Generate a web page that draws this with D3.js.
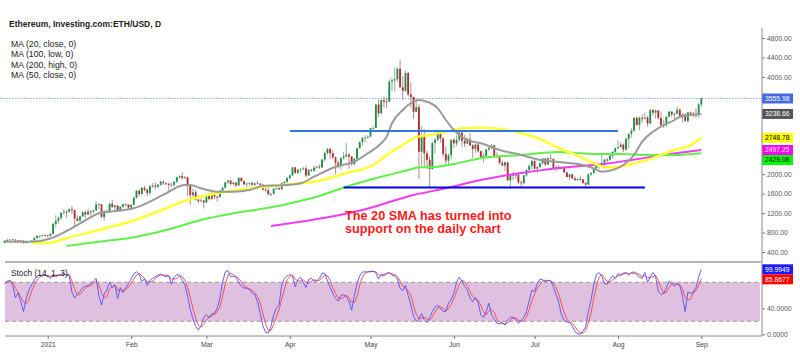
<!DOCTYPE html>
<html>
<head>
<meta charset="utf-8">
<script src="https://cdn.jsdelivr.net/npm/d3@7"></script>
<style>
  body { margin: 0; background: #fff; }
  svg { display: block; font-family: "Liberation Sans", Arial, sans-serif; }
</style>
</head>
<body>
<div id="chart"></div>
<script>
// ETH/USD daily, 16 Dec 2020 -> 1 Sep 2021, [open, high, low, close]
const firstDay = "2020-12-16";
const ethDaily = [
  [589,637,584,636],[636,675,620,643],[643,660,628,657],[657,668,645,655],[655,660,625,638],
  [638,647,595,609],[609,640,600,634],[634,637,575,584],[584,614,568,612],[612,628,602,626],
  [626,642,614,635],[635,722,630,683],[683,740,680,731],[731,737,693,732],[732,755,715,751],
  [751,752,720,737],
  // Jan
  [737,749,716,730],[730,787,715,775],[775,1011,768,978],[978,1157,896,1041],[1041,1134,976,1100],
  [1100,1209,1064,1208],[1208,1282,1168,1225],[1225,1260,1100,1224],[1224,1300,1210,1281],[1281,1348,1180,1262],
  [1262,1265,915,1090],[1090,1150,1030,1043],[1043,1140,1015,1130],[1130,1245,1124,1218],[1218,1250,1090,1171],
  [1171,1290,1160,1233],[1233,1260,1150,1230],[1230,1265,1200,1257],[1257,1440,1250,1377],[1377,1400,1280,1382],
  [1382,1384,1100,1121],[1121,1260,1042,1236],[1236,1280,1210,1233],[1233,1410,1225,1392],[1392,1470,1310,1324],
  [1324,1370,1250,1357],[1357,1360,1230,1253],[1253,1340,1220,1332],[1332,1400,1300,1382],[1382,1390,1340,1376],
  [1376,1380,1290,1314],
  // Feb
  [1314,1380,1300,1369],[1369,1540,1350,1515],[1515,1665,1500,1660],[1660,1690,1540,1594],[1594,1740,1590,1718],
  [1718,1760,1650,1677],[1677,1710,1550,1614],[1614,1780,1580,1750],[1750,1820,1720,1769],[1769,1830,1690,1744],
  [1744,1800,1710,1784],[1784,1870,1760,1843],[1843,1870,1780,1814],[1814,1830,1770,1804],[1804,1820,1660,1779],
  [1779,1830,1740,1781],[1781,1860,1740,1848],[1848,1950,1820,1937],[1937,1980,1900,1960],[1960,2040,1890,1919],
  [1919,1970,1900,1935],[1935,1950,1550,1781],[1781,1790,1370,1570],[1570,1710,1500,1626],[1626,1680,1460,1475],
  [1475,1560,1400,1446],[1446,1530,1430,1459],[1459,1470,1295,1417],
  // Mar
  [1417,1570,1410,1565],[1565,1600,1460,1488],[1488,1650,1480,1573],[1573,1620,1500,1537],[1537,1550,1440,1530],
  [1530,1670,1520,1663],[1663,1735,1640,1723],[1723,1840,1700,1835],[1835,1880,1800,1868],[1868,1880,1770,1799],
  [1799,1840,1760,1827],[1827,1840,1730,1770],[1770,1940,1750,1924],[1924,1930,1850,1855],[1855,1870,1770,1792],
  [1792,1820,1730,1806],[1806,1830,1750,1823],[1823,1840,1760,1782],[1782,1830,1760,1810],[1810,1860,1800,1806],
  [1806,1820,1740,1782],[1782,1800,1670,1680],[1680,1720,1650,1668],[1668,1740,1560,1588],[1588,1620,1550,1595],
  [1595,1710,1590,1702],[1702,1730,1680,1716],[1716,1730,1670,1691],[1691,1830,1680,1819],[1819,1850,1780,1846],
  [1846,1940,1770,1919],
  // Apr
  [1919,1990,1900,1977],[1977,2150,1960,2142],[2142,2145,2010,2027],[2027,2100,2000,2093],[2093,2120,2030,2108],
  [2108,2150,2080,2118],[2118,2170,1940,1972],[1972,2100,1960,2089],[2089,2110,2050,2071],[2071,2180,2050,2135],
  [2135,2170,2110,2157],[2157,2200,2110,2139],[2139,2320,2130,2299],[2299,2470,2260,2435],[2435,2540,2400,2519],
  [2519,2550,2310,2431],[2431,2490,2320,2344],[2344,2360,2000,2237],[2237,2280,2120,2166],[2166,2350,2100,2331],
  [2331,2460,2300,2364],[2364,2640,2350,2403],[2403,2430,2110,2363],[2363,2370,2170,2212],[2212,2340,2170,2316],
  [2316,2540,2300,2534],[2534,2670,2520,2662],[2662,2760,2580,2747],[2747,2800,2660,2756],[2756,2800,2720,2773],
  // May
  [2773,2950,2760,2945],[2945,2985,2860,2952],[2952,3450,2950,3431],[3431,3530,3180,3253],[3253,3540,3230,3523],
  [3523,3600,3380,3491],[3491,3580,3360,3490],[3490,3950,3480,3902],[3902,3980,3710,3928],[3928,4200,3700,3951],
  [3951,4190,3900,4168],[4168,4360,3780,3786],[3786,4020,3530,3715],[3715,4130,3690,4079],[4079,4110,3600,3638],
  [3638,3880,3370,3587],[3587,3600,3140,3282],[3282,3560,3270,3380],[3380,3440,1900,2460],[2460,2980,2170,2784],
  [2784,2920,2170,2430],[2430,2480,2100,2295],[2295,2370,1740,2109],[2109,2670,2090,2643],[2643,2750,2420,2706],
  [2706,2910,2680,2888],[2888,2890,2650,2736],[2736,2760,2360,2419],[2419,2570,2190,2279],[2279,2430,2180,2387],
  [2387,2710,2300,2707],
  // Jun
  [2707,2740,2540,2634],[2634,2800,2580,2707],[2707,2890,2670,2855],[2855,2860,2560,2689],[2689,2810,2560,2630],
  [2630,2750,2610,2715],[2715,2840,2580,2590],[2590,2620,2330,2517],[2517,2620,2440,2609],[2609,2640,2440,2472],
  [2472,2490,2330,2353],[2353,2430,2240,2372],[2372,2520,2330,2508],[2508,2600,2470,2537],[2537,2630,2510,2590],
  [2590,2600,2340,2368],[2368,2460,2330,2372],[2372,2380,2200,2231],[2231,2280,2170,2178],[2178,2260,2060,2243],
  [2243,2250,1860,1875],[1875,2000,1700,1990],[1990,2050,1880,1971],[1971,2020,1900,1989],[1989,2030,1800,1831],
  [1831,1870,1720,1814],[1814,1990,1790,1978],[1978,2100,1950,2085],[2085,2210,2060,2167],[2167,2280,2100,2275],
  // Jul
  [2275,2280,2100,2114],[2114,2160,2020,2150],[2150,2240,2120,2226],[2226,2340,2200,2322],[2322,2320,2170,2198],
  [2198,2350,2190,2324],[2324,2410,2310,2316],[2316,2320,2090,2116],[2116,2190,2060,2146],[2146,2190,2090,2111],
  [2111,2160,2100,2140],[2140,2170,2030,2037],[2037,2050,1940,1940],[1940,2000,1880,1995],[1995,2010,1900,1912],
  [1912,1960,1860,1880],[1880,1920,1860,1899],[1899,1970,1870,1895],[1895,1900,1800,1820],[1820,1830,1720,1787],
  [1787,2020,1780,1995],[1995,2040,1960,2025],[2025,2130,2000,2124],[2124,2200,2100,2189],[2189,2200,2110,2191],
  [2191,2440,2160,2233],[2233,2310,2160,2299],[2299,2340,2220,2298],[2298,2400,2270,2380],[2380,2470,2320,2461],
  [2461,2550,2440,2533],
  // Aug
  [2533,2700,2520,2557],[2557,2660,2540,2609],[2609,2630,2450,2506],[2506,2760,2480,2725],[2725,2840,2530,2827],
  [2827,2950,2750,2890],[2890,3170,2880,3157],[3157,3180,2990,3013],[3013,3180,2900,3163],[3163,3230,3060,3141],
  [3141,3270,3130,3164],[3164,3200,2980,3044],[3044,3330,3030,3322],[3322,3330,3200,3265],[3265,3330,3140,3310],
  [3310,3320,3120,3156],[3156,3290,2990,3014],[3014,3120,2950,3017],[3017,3190,2970,3182],[3182,3300,3170,3286],
  [3286,3290,3180,3226],[3226,3270,3120,3242],[3242,3380,3230,3324],[3324,3360,3150,3173],[3173,3250,3060,3228],
  [3228,3250,3070,3096],[3096,3280,3060,3269],[3269,3290,3200,3245],[3245,3280,3170,3227],[3227,3350,3150,3225],
  [3225,3470,3160,3433],
  // Sep
  [3433,3570,3380,3555.98]
];

// moving averages: [days from 1 Jan 2021, price]
const ma20Close = [[-16,612],[-6,612],[1,678],[7,832],[13,1017],[19,1196],[23,1229],[32,1298],[38,1434],[44,1607],
  [51,1778],[53,1778],[57,1710],[63,1640],[69,1640],[75,1675],[80,1760],[87,1770],[94,1812],[99,1948],[107,2154],
  [114,2257],[119,2429],[124,2635],[126,2771],[128,3046],[132,3320],[136,3490],[138,3525],[141,3490],[145,3354],
  [148,3114],[151,2908],[153,2805],[156,2703],[161,2635],[168,2497],[176,2394],[183,2292],[190,2250],[198,2200],
  [203,2121],[206,2051],[210,2086],[214,2189],[218,2394],[221,2668],[225,2873],[229,3011],[233,3114],[235,3182],
  [239,3217],[243,3238.66]];
const ma50Close = [[-6,579],[1,591],[7,682],[19,852],[32,1048],[44,1298],[50,1434],[57,1537],[63,1607],[69,1660],
  [81,1742],[94,1812],[99,1845],[111,2018],[121,2189],[127,2429],[132,2600],[136,2738],[142,2806],[148,2873],
  [154,2943],[161,2956],[168,2929],[176,2847],[183,2723],[190,2538],[198,2359],[203,2224],[208,2141],[213,2154],
  [218,2224],[223,2292],[228,2394],[233,2497],[238,2565],[243,2748.78]];
const ma100Low = [[7,523],[19,612],[32,702],[44,852],[57,1058],[69,1196],[81,1298],[94,1450],[99,1520],[111,1743],
  [124,1948],[134,2086],[138,2141],[145,2154],[151,2209],[161,2326],[176,2394],[190,2456],[198,2429],[205,2415],
  [213,2415],[223,2394],[233,2394],[239,2415],[243,2429.08]];
const ma200High = [[83,935],[94,1023],[105,1126],[117,1264],[136,1572],[148,1710],[161,1880],[176,2024],[187,2106],
  [198,2168],[206,2203],[217,2292],[229,2394],[243,2497.25]];

// Stoch (14, 1, 3), one value per candle
const stochK = [
  78,82,83,75,56,64,50,35,55,68,76,83,89,91,90,91,
  89,86,91,91,91,92,94,91,90,65, 56,61,66,72,74,75,77,82,86,60,
  45,62,68,80,72,76,55,72,66,71, 78,85,93,96,92,81,85,75,83,86,
  89,91,93,90,89,90,77,88,92,91, 83,76,58,38,24,12,7,13,26,30,
  25,32,32,40,55,80,96,98,89,89, 88,80,74,71,71,69,63,61,50,32,
  13,3,2,12,30,40,45,76,86,90, 92,90,73,84,88,80,72,84,86,82,
  82,86,94,94,82,72,63,55,51,60, 61,58,51,37,60,78,90,96,96,96,
  97,97,94,85,92,92,94,95,91,90, 85,71,
  67,75,60,45,28,20,23,32,22,18, 25,35,42,45,40,35,35,48,54,63,
  80,88,82,74,68,56,50,57,49,30, 26,35,48,30,23,17,16,18,14,22,
  26,26,23,17,21,26,35,52,68,66, 78,85,84,81,83,82,73,61,49,30,
  21,19,18,13,4,1,0,5,12,35, 53,76,92,95,89,78,77,85,90,86,
  93,92,94,95,91,95,96,92,88,86, 95,80,88,95,89,66,61,63,72,82,
  78,74,78,75,58,35,65,63,65,72, 88,99.9949
];
const stochD = [
  78,80,81,80,71,65,57,50,47,53,66,76,83,88,90,91,
  90,89,89,89,91,91,92,92,92,82, 70,61,61,66,71,74,75,78,82,76,
  64,56,58,70,73,76,68,68,64,70, 72,78,85,91,94,90,86,80,81,81,
  86,89,91,91,91,90,85,85,86,90, 89,83,72,57,40,25,14,11,15,23,
  27,29,30,35,42,58,77,91,94,92, 89,86,81,75,72,70,68,64,58,48,
  32,16,6,6,15,27,38,54,69,84, 89,91,85,82,82,84,80,79,81,84,
  83,83,87,91,90,83,72,63,56,55, 57,60,57,49,49,58,76,88,94,96,
  96,97,96,92,90,90,93,94,93,92, 89,82,
  74,71,67,60,44,31,24,25,26,24, 22,26,34,41,42,40,37,39,46,55,
  66,77,83,81,75,66,58,54,52,45, 35,30,36,38,34,23,19,17,16,18,
  21,25,25,22,20,21,27,38,52,62, 71,76,82,83,83,82,79,72,61,47,
  33,23,19,17,12,6,2,2,6,17, 33,55,74,88,92,87,81,80,84,87,
  90,90,93,94,93,94,94,94,92,89, 90,87,88,88,91,83,72,63,65,72,
  77,78,77,76,70,56,53,54,64,67, 75,85.8677
];

// drawn levels
const resistance = { price: 2890, from: "2021-04-01", to: "2021-08-01" };
const support = { price: 1725, from: "2021-04-21", to: "2021-08-11" };
const lastPrice = 3555.98;

const priceTicks = [400, 800, 1200, 1600, 2000, 4000, 4400, 4800];
const stochTicks = [0, 40];
const stochBands = [20, 80];

const priceBadges = [
  { v: 3555.98, bg: "#4169e1", fg: "#fff" },
  { v: 3238.66, bg: "#555555", fg: "#fff" },
  { v: 2748.78, bg: "#ffff00", fg: "#000" },
  { v: 2497.25, bg: "#ff00ff", fg: "#fff" },
  { v: 2429.08, bg: "#00ff00", fg: "#000" }
];
const stochBadges = [
  { v: 99.9949, bg: "#1a1aff", fg: "#fff" },
  { v: 85.8677, bg: "#ff0000", fg: "#fff" }
];

const legendLines = ["MA (20, close, 0)", "MA (100, low, 0)", "MA (200, high, 0)", "MA (50, close, 0)"];
const noteLines = ["The 20 SMA has turned into", "support on the daily chart"];

// ---------------------------------------------------------------------------
const width = 800, height = 352;
const axisX = 762;

const parse = d3.utcParse("%Y-%m-%d");
const day0 = parse(firstDay);
const jan1 = parse("2021-01-01");
const dayToDate = off => new Date(jan1.getTime() + off * 864e5);

const bars = ethDaily.map((r, i) => ({
  date: d3.utcDay.offset(day0, i), o: r[0], h: r[1], l: r[2], c: r[3],
  k: stochK[i], d: stochD[i]
}));

const svg = d3.select("#chart").append("svg")
  .attr("width", width).attr("height", height);

const x = d3.scaleUtc()
  .domain([parse("2020-12-14"), parse("2021-09-24")])
  .range([-0.7, 763.2]);
const y = d3.scaleLinear().domain([400, 4800]).range([252, 38]);
const ys = d3.scaleLinear().domain([0, 100]).range([334.3, 269.3]);

// ---- main panel
const main = svg.append("g");

// dotted last-price line
main.append("line")
  .attr("x1", 0).attr("x2", axisX)
  .attr("y1", y(lastPrice)).attr("y2", y(lastPrice))
  .attr("stroke", "#8ea6e6").attr("stroke-width", 1)
  .attr("stroke-dasharray", "1.5,1.5");

// candles
const up = d => d.c >= d.o;
main.selectAll("line.wick").data(bars).join("line")
  .attr("class", "wick")
  .attr("x1", d => x(d.date)).attr("x2", d => x(d.date))
  .attr("y1", d => y(d.h)).attr("y2", d => y(d.l))
  .attr("stroke", d => up(d) ? "#6f9c80" : "#a07070")
  .attr("stroke-width", 0.8);

main.selectAll("rect.body").data(bars).join("rect")
  .attr("class", "body")
  .attr("x", d => x(d.date) - 0.9)
  .attr("width", 1.8)
  .attr("y", d => y(Math.max(d.o, d.c)))
  .attr("height", d => Math.max(0.8, Math.abs(y(d.o) - y(d.c))))
  .attr("fill", d => up(d) ? "#1e8a4a" : "#b22a2a");

// moving averages
const maLine = d3.line()
  .x(p => x(dayToDate(p[0])))
  .y(p => y(p[1]))
  .curve(d3.curveMonotoneX);

[
  { data: ma200High, color: "#f23cf2", w: 2 },
  { data: ma100Low, color: "#5ff04a", w: 2 },
  { data: ma50Close, color: "#ffff33", w: 2.5 },
  { data: ma20Close, color: "#9a9a9a", w: 2 }
].forEach(s => {
  main.append("path")
    .attr("d", maLine(s.data))
    .attr("fill", "none")
    .attr("stroke", s.color)
    .attr("stroke-width", s.w)
    .attr("stroke-linejoin", "round");
});

// horizontal levels
main.append("line")
  .attr("x1", x(parse(resistance.from))).attr("x2", x(parse(resistance.to)))
  .attr("y1", y(resistance.price)).attr("y2", y(resistance.price))
  .attr("stroke", "#2f78e6").attr("stroke-width", 2);
main.append("line")
  .attr("x1", x(parse(support.from))).attr("x2", x(parse(support.to)))
  .attr("y1", y(support.price)).attr("y2", y(support.price))
  .attr("stroke", "#0000e0").attr("stroke-width", 2);

// annotation
main.append("text")
  .attr("x", 345).attr("y", 220)
  .attr("fill", "#ff1a1a")
  .style("font-size", "12.7px").style("font-weight", "bold")
  .selectAll("tspan").data(noteLines).join("tspan")
  .attr("x", 345).attr("dy", (d, i) => i ? 13 : 0)
  .text(d => d);

// title + legend
svg.append("text")
  .attr("x", 9).attr("y", 27)
  .style("font-size", "8.5px").style("font-weight", "bold").attr("fill", "#222")
  .text("Ethereum, Investing.com:ETH/USD, D");

svg.append("g").selectAll("text").data(legendLines).join("text")
  .attr("x", 11).attr("y", (d, i) => 46.5 + i * 10.6)
  .style("font-size", "8.7px").attr("fill", "#222")
  .text(d => d);

// price axis
const yAxis = svg.append("g")
  .attr("transform", `translate(${axisX},0)`)
  .call(d3.axisRight(y).tickValues(priceTicks).tickSize(3).tickPadding(2)
    .tickFormat(d3.format(".2f")));
yAxis.select(".domain").remove();
yAxis.selectAll("text").style("font-size", "6.8px").attr("fill", "#555")
  .style("font-family", "'Liberation Sans', Arial, sans-serif");
yAxis.selectAll("line").attr("stroke", "#777");

// badges with simple overlap push-down
function drawBadges(list, scale, fmt) {
  let prev = -Infinity;
  list.forEach(b => {
    let cy = scale(b.v);
    if (cy - prev < 10) cy = prev + 10;
    prev = cy;
    const g = svg.append("g").attr("transform", `translate(${axisX},${cy})`);
    g.append("rect").attr("x", 0).attr("y", -5).attr("width", 31).attr("height", 10).attr("fill", b.bg);
    g.append("text").attr("x", 3).attr("y", 2.5)
      .style("font-size", "6.8px").attr("fill", b.fg)
      .text(fmt(b.v));
  });
}
drawBadges(priceBadges, y, d3.format(".2f"));

// ---- stoch panel
const st = svg.append("g");
st.append("rect")
  .attr("x", 5).attr("width", axisX - 7)
  .attr("y", ys(stochBands[1])).attr("height", ys(stochBands[0]) - ys(stochBands[1]))
  .attr("fill", "#dfc1df");
st.selectAll("line.band").data(stochBands).join("line")
  .attr("x1", 5).attr("x2", axisX - 2)
  .attr("y1", d => ys(d)).attr("y2", d => ys(d))
  .attr("stroke", "#9a9a9a").attr("stroke-dasharray", "4,3");

const kLine = d3.line().x(d => x(d.date)).y(d => ys(d.k));
const dLine = d3.line().x(d => x(d.date)).y(d => ys(d.d));
st.append("path").attr("d", dLine(bars)).attr("fill", "none")
  .attr("stroke", "#ff4040").attr("stroke-width", 0.9);
st.append("path").attr("d", kLine(bars)).attr("fill", "none")
  .attr("stroke", "#5050ff").attr("stroke-width", 0.9);

st.append("text").attr("x", 11).attr("y", 276)
  .style("font-size", "8.3px").attr("fill", "#222")
  .text("Stoch (14, 1, 3)");

const sAxis = svg.append("g")
  .attr("transform", `translate(${axisX},0)`)
  .call(d3.axisRight(ys).tickValues(stochTicks).tickSize(3).tickPadding(2)
    .tickFormat(d3.format(".4f")));
sAxis.select(".domain").remove();
sAxis.selectAll("text").style("font-size", "6.8px").attr("fill", "#555")
  .style("font-family", "'Liberation Sans', Arial, sans-serif");
sAxis.selectAll("line").attr("stroke", "#777");
drawBadges(stochBadges, ys, d3.format(".4f"));

// panel frame lines
svg.append("line").attr("x1", axisX).attr("x2", axisX).attr("y1", 28).attr("y2", 336)
  .attr("stroke", "#8a8a8a").attr("stroke-width", 1);
svg.append("line").attr("x1", 5).attr("x2", axisX).attr("y1", 262).attr("y2", 262)
  .attr("stroke", "#b5b5b5").attr("stroke-width", 2);

// time axis
const xAxis = svg.append("g")
  .attr("transform", "translate(0,336)")
  .call(d3.axisBottom(x).ticks(d3.utcMonth.every(1)).tickSize(3).tickPadding(3)
    .tickFormat(d => d.getUTCMonth() === 0 ? d3.utcFormat("%Y")(d) : d3.utcFormat("%b")(d)));
xAxis.select(".domain").attr("d", "M5,0H" + axisX).attr("stroke", "#8a8a8a");
xAxis.selectAll("line").attr("stroke", "#777");
xAxis.selectAll("text").style("font-size", "6.8px").attr("fill", "#444")
  .style("font-family", "'Liberation Sans', Arial, sans-serif");
xAxis.selectAll(".tick").filter(d => x(d) < 5).remove();
</script>
</body>
</html>
